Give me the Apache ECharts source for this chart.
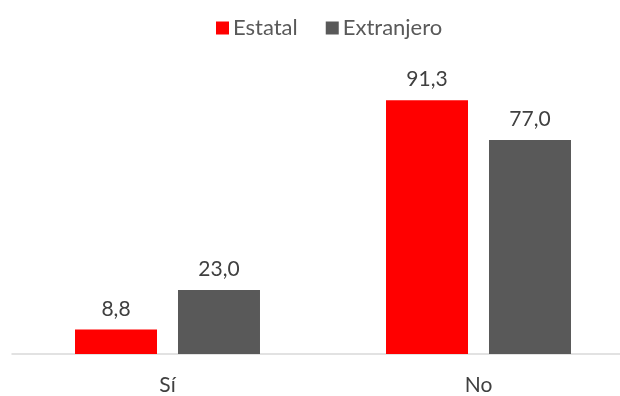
<!DOCTYPE html>
<html>
<head>
<meta charset="utf-8">
<script src="https://cdn.jsdelivr.net/npm/echarts@6/dist/echarts.min.js"></script>
<style>
  html, body { margin: 0; padding: 0; background: #fff; overflow: hidden; width: 620px; height: 396px; }
  /* canvas runs past the right edge so the axis line continues off-page */
  #chart { width: 634px; height: 396px; }
</style>
</head>
<body>
<div id="chart"></div>
<script>
// Categories and series values
const categories = ['Sí', 'No'];
const estatal = [8.8, 91.3];
const extranjero = [23.0, 77.0];
const seriesNames = ['Estatal', 'Extranjero'];

const FONT = 'Lato, "Open Sans", sans-serif';
const fmt = v => v.toFixed(1).replace('.', ',');

const chart = echarts.init(document.getElementById('chart'), null, { renderer: 'canvas' });

const labelStyle = {
  show: true,
  position: 'top',
  distance: 10,
  color: '#404040',
  fontSize: 21,
  fontFamily: FONT,
  formatter: p => fmt(p.value)
};

chart.setOption({
  animation: false,
  legend: {
    data: seriesNames,
    left: 211,
    top: 12,
    itemWidth: 13,
    itemHeight: 13,
    itemGap: 28,
    icon: 'rect',
    textStyle: { color: '#595959', fontSize: 22, fontFamily: FONT, padding: [0, 0, 0, -1] }
  },
  grid: { left: 12, top: 76, right: 0, height: 280, containLabel: false },
  xAxis: {
    type: 'category',
    data: categories,
    axisLine: { lineStyle: { color: '#D9D9D9', width: 1.5 } },
    axisTick: { show: false },
    axisLabel: { color: '#404040', fontSize: 21, fontFamily: FONT, margin: 21 }
  },
  yAxis: {
    type: 'value',
    min: 0,
    max: 100,
    show: false,
    splitLine: { show: false }
  },
  series: [
    {
      name: seriesNames[0],
      type: 'bar',
      data: estatal,
      barWidth: 82,
      barGap: '25.6%',
      itemStyle: { color: '#FF0000' },
      label: labelStyle
    },
    {
      name: seriesNames[1],
      type: 'bar',
      data: extranjero,
      barWidth: 82,
      barGap: '25.6%',
      itemStyle: { color: '#595959' },
      label: labelStyle
    }
  ]
});
</script>
</body>
</html>
